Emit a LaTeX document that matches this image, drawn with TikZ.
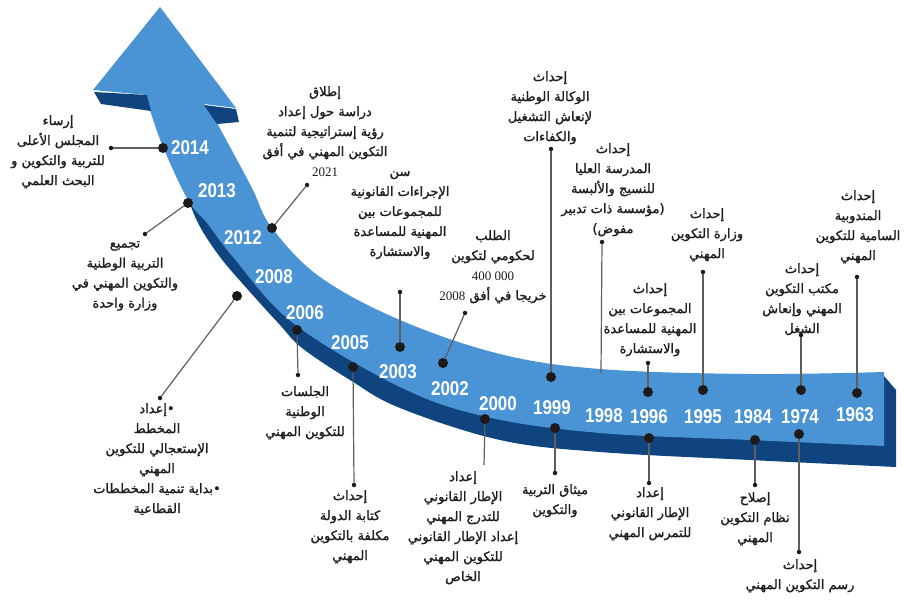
\documentclass[tikz,border=0pt]{standalone}
\usepackage{fontspec}
\usepackage{graphicx}
\setmainfont{Liberation Serif}
\newfontfamily\arabicfont[Script=Arabic,FakeBold=1.3]{DejaVu Sans}
\newfontfamily\yearfont{Liberation Sans}
\TeXXeTstate=1
\newcommand{\ar}[1]{{\arabicfont\beginR #1\endR}}
\newcommand{\yr}[1]{\scalebox{0.85}[1]{#1}}
\definecolor{bandlight}{RGB}{74,148,213}
\definecolor{banddark}{RGB}{16,68,126}
\definecolor{connc}{RGB}{95,95,95}
\definecolor{dotc}{RGB}{30,26,26}
\definecolor{txtc}{RGB}{30,30,30}
\tikzset{
  yearlab/.style={text=white, font=\yearfont\bfseries\fontsize{20}{20}\selectfont, inner sep=0pt},
  bigdot/.style={circle, fill=dotc, minimum size=10pt, inner sep=0pt},
  smalldot/.style={circle, fill=dotc, minimum size=4.5pt, inner sep=0pt},
  conn/.style={draw=connc, line width=1.2pt},
  evt/.style={align=center, inner sep=0pt, anchor=north, text=txtc, font=\fontsize{13}{20}\selectfont},
}
\begin{document}
\begin{tikzpicture}[x=1pt,y=-1pt]
\useasboundingbox (0,0) rectangle (906,600);
% dark underside
\fill[banddark] plot[smooth, tension=0.6] coordinates {(185,190) (198,223) (220,257) (250,292) (280,325) (302,348) (350,380) (400,408) (500,440) (600,452) (750,460) (896,467)}
  -- (896,390) -- (884,376) -- (700,400) -- (500,390) -- (350,340) -- (250,260) -- cycle;
% light band with arrow head
\fill[bandlight] (160,7) -- (236,108) -- (204,104) -- (217,123)
  -- plot[smooth, tension=0.6] coordinates {(217,123) (236,158) (253,190) (272,228) (320,277) (400,320) (500,354) (600,369) (750,374) (884,372)}
  -- (884,446)
  -- plot[smooth, tension=0.6] coordinates {(884,446) (750,440) (600,433) (487,417) (400,387) (293,323) (233,257) (207,223) (188,200) (163,147) (150,110)}
  -- (147,95) -- (93,90) -- cycle;
% barb shadows
\fill[banddark] (94,92) -- (147,95) -- (151,111) -- (101,104) -- cycle;
\fill[banddark] (204,105) -- (236,109) -- (239,122) -- (217,124) -- cycle;

% years
\node[yearlab] (y2014) at (190,148) {\yr{2014}};
\node[yearlab] (y2013) at (217,191) {\yr{2013}};
\node[yearlab] (y2012) at (243,238) {\yr{2012}};
\node[yearlab] (y2008) at (274,277) {\yr{2008}};
\node[yearlab] (y2006) at (305,313) {\yr{2006}};
\node[yearlab] (y2005) at (350,343) {\yr{2005}};
\node[yearlab] (y2003) at (398,372) {\yr{2003}};
\node[yearlab] (y2002) at (450,389) {\yr{2002}};
\node[yearlab] (y2000) at (498,404) {\yr{2000}};
\node[yearlab] (y1999) at (552,408) {\yr{1999}};
\node[yearlab] (y1998) at (604,416) {\yr{1998}};
\node[yearlab] (y1996) at (649,417) {\yr{1996}};
\node[yearlab] (y1995) at (703,417) {\yr{1995}};
\node[yearlab] (y1984) at (753,417) {\yr{1984}};
\node[yearlab] (y1974) at (800,417) {\yr{1974}};
\node[yearlab] (y1963) at (855,415) {\yr{1963}};

% dots
\node[bigdot] (d2014) at (163,148) {};   \node[smalldot] (s2014) at (111,148) {};
\node[bigdot] (d2013) at (188,203) {};   \node[smalldot] (s2013) at (145,234) {};
\node[bigdot] (d2012) at (272,228) {};   \node[smalldot] (s2012) at (307,185) {};
\node[bigdot] (d2008) at (237,296) {};   \node[smalldot] (s2008) at (160,398) {};
\node[bigdot] (d2006) at (297,330) {};   \node[smalldot] (s2006) at (298,375) {};
\node[bigdot] (d2005) at (353,367) {};   \node[smalldot] (s2005) at (354,485) {};
\node[bigdot] (d2003) at (400,347) {};   \node[smalldot] (s2003) at (400,292) {};
\node[bigdot] (d2002) at (443,363) {};   \node[smalldot] (s2002) at (465,313) {};
\node[bigdot] (d2000) at (485,419) {};   \coordinate (e2000) at (484,465);
\node[bigdot] (d1999a) at (551,377) {};  \node[smalldot] (s1999a) at (551,149) {};
\node[bigdot] (d1999b) at (555,428) {};  \node[smalldot] (s1999b) at (555,473) {};
\coordinate (d1998) at (601,373);        \node[smalldot] (s1998) at (602,242) {};
\node[bigdot] (d1996a) at (648,392) {};  \node[smalldot] (s1996a) at (648,363) {};
\node[bigdot] (d1996b) at (649,438) {};  \node[smalldot] (s1996b) at (649,483) {};
\node[bigdot] (d1995) at (703,390) {};   \node[smalldot] (s1995) at (703,272) {};
\node[bigdot] (d1984) at (755,440) {};   \node[smalldot] (s1984) at (755,485) {};
\node[bigdot] (d1974a) at (801,390) {};  \node[smalldot] (s1974a) at (801,335) {};
\node[bigdot] (d1974b) at (799,434) {};  \node[smalldot] (s1974b) at (799,552) {};
\node[bigdot] (d1963) at (857,393) {};   \node[smalldot] (s1963) at (857,277) {};

% connectors
\draw[conn] (d2014) -- (s2014);
\draw[conn] (d2013) -- (s2013);
\draw[conn] (d2012) -- (s2012);
\draw[conn] (d2008) -- (s2008);
\draw[conn] (d2006) -- (s2006);
\draw[conn] (d2005) -- (s2005);
\draw[conn] (d2003) -- (s2003);
\draw[conn] (d2002) -- (s2002);
\draw[conn] (d2000) -- (e2000);
\draw[conn] (d1999a) -- (s1999a);
\draw[conn] (d1999b) -- (s1999b);
\draw[conn] (d1998) -- (s1998);
\draw[conn] (d1996a) -- (s1996a);
\draw[conn] (d1996b) -- (s1996b);
\draw[conn] (d1995) -- (s1995);
\draw[conn] (d1984) -- (s1984);
\draw[conn] (d1974a) -- (s1974a);
\draw[conn] (d1974b) -- (s1974b);
\draw[conn] (d1963) -- (s1963);

% event texts
\node[evt] (t2014) at (58,115) {\ar{إرساء}\\\ar{المجلس الأعلى}\\\ar{للتربية والتكوين و}\\\ar{البحث العلمي}};
\node[evt] (t2013) at (125,241) {\ar{تجميع}\\\ar{التربية الوطنية}\\\ar{والتكوين المهني في}\\\ar{وزارة واحدة}};
\node[evt] (t2012) at (325,86) {\ar{إطلاق}\\\ar{دراسة حول إعداد}\\\ar{رؤية إستراتيجية لتنمية}\\\ar{التكوين المهني في أفق}\\2021};
\node[evt] (t2008) at (157,403) {\ar{•إعداد}\\\ar{المخطط}\\\ar{الإستعجالي للتكوين}\\\ar{المهني}\\\ar{•بداية تنمية المخططات}\\\ar{القطاعية}};
\node[evt] (t2006) at (305,386) {\ar{الجلسات}\\\ar{الوطنية}\\\ar{للتكوين المهني}};
\node[evt] (t2005) at (350,490) {\ar{إحداث}\\\ar{كتابة الدولة}\\\ar{مكلفة بالتكوين}\\\ar{المهني}};
\node[evt] (t2003) at (400,171) {\ar{سن}\\\ar{الإجراءات القانونية}\\\ar{للمجموعات بين}\\\ar{المهنية للمساعدة}\\\ar{والاستشارة}};
\node[evt] (t2002) at (493,230) {\ar{الطلب}\\\ar{لحكومي لتكوين}\\400 000\\\ar{خريجا في أفق \beginL{\rmfamily 2008}\endL}};
\node[evt] (t2000) at (463,471) {\ar{إعداد}\\\ar{الإطار القانوني}\\\ar{للتدرج المهني}\\\ar{إعداد الإطار القانوني}\\\ar{للتكوين المهني}\\\ar{الخاص}};
\node[evt] (t1999a) at (550,71) {\ar{إحداث}\\\ar{الوكالة الوطنية}\\\ar{لإنعاش التشغيل}\\\ar{والكفاءات}};
\node[evt] (t1999b) at (555,484) {\ar{ميثاق التربية}\\\ar{والتكوين}};
\node[evt] (t1998) at (613,143) {\ar{إحداث}\\\ar{المدرسة العليا}\\\ar{للنسيج والألبسة}\\\ar{(مؤسسة ذات تدبير}\\\ar{مفوض)}};
\node[evt] (t1996a) at (650,283) {\ar{إحداث}\\\ar{المجموعات بين}\\\ar{المهنية للمساعدة}\\\ar{والاستشارة}};
\node[evt] (t1996b) at (650,487) {\ar{إعداد}\\\ar{الإطار القانوني}\\\ar{للتمرس المهني}};
\node[evt] (t1995) at (707,208) {\ar{إحداث}\\\ar{وزارة التكوين}\\\ar{المهني}};
\node[evt] (t1984) at (755,492) {\ar{إصلاح}\\\ar{نظام التكوين}\\\ar{المهني}};
\node[evt] (t1974a) at (802,263) {\ar{إحداث}\\\ar{مكتب التكوين}\\\ar{المهني وإنعاش}\\\ar{الشغل}};
\node[evt] (t1974b) at (800,559) {\ar{إحداث}\\\ar{رسم التكوين المهني}};
\node[evt] (t1963) at (858,190) {\ar{إحداث}\\\ar{المندوبية}\\\ar{السامية للتكوين}\\\ar{المهني}};
\end{tikzpicture}
\end{document}
